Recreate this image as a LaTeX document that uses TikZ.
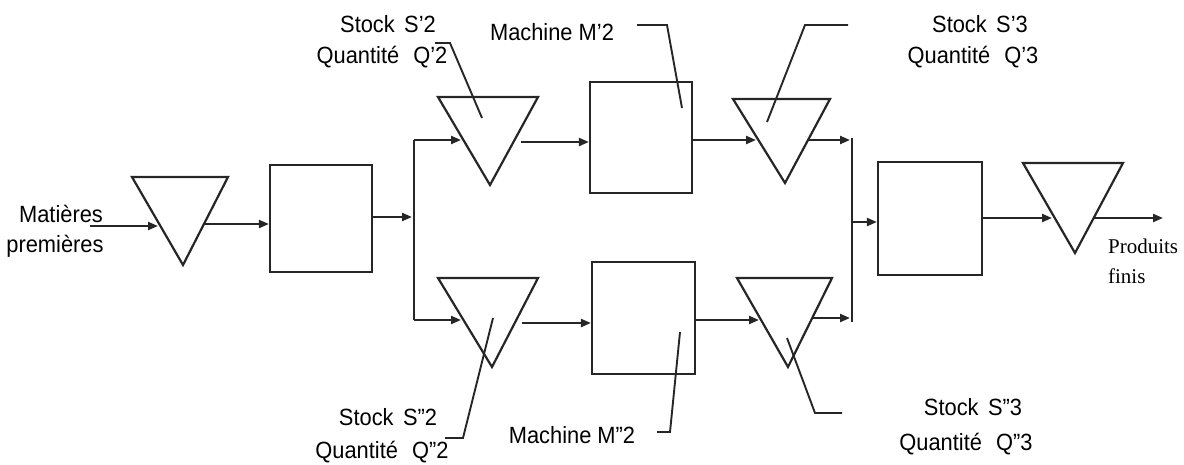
\documentclass[tikz,border=0pt]{standalone}
\usepackage{fontspec}
\setmainfont[FakeStretch=0.93]{Liberation Sans}
\newfontfamily\serifx{Liberation Serif}
\usetikzlibrary{arrows.meta}
\tikzset{
  box/.style={draw, rectangle, inner sep=0pt},
  flow/.style={-{Triangle[length=10pt,width=8pt]}},
  lead/.style={line width=1.9pt},
  lbl/.style={anchor=base, inner sep=0pt, font=\fontsize{23.5}{28}\selectfont},
  lblr/.style={anchor=base west, inner sep=0pt, font=\serifx\fontsize{21}{25}\selectfont},
}
\begin{document}
\begin{tikzpicture}[x=1pt,y=-1pt,line width=2.2pt,line join=miter,draw={black!85}]
\useasboundingbox (0,0) rectangle (1184,464);

% ---- input stock
\coordinate (in0) at (90,226);
\draw (132,177) coordinate (t1a) -- (183,265) coordinate (t1b) -- (228,177) coordinate (t1c) -- cycle;
\coordinate (t1in) at (158,226);
\coordinate (t1out) at (205,224);
\draw[flow] (in0) -- (t1in);

% ---- machine 1
\node[box,minimum width=102pt,minimum height=107pt] (b1) at (321,218.5) {};
\draw[flow] (t1out) -- (b1.west |- t1out);
\coordinate (j1) at (412,217);
\draw[flow] (b1.east |- j1) -- (j1);
\coordinate (j1t) at (414,140);
\coordinate (j1b) at (414,320);
\draw (j1t) -- (j1b);

% ---- upper branch
\draw (438,97) coordinate (t2a) -- (490,185) coordinate (t2b) -- (538,97) coordinate (t2c) -- cycle;
\coordinate (t2in) at (461,140);
\draw[flow] (j1t) -- (t2in);
\coordinate (t2out) at (521,142);
\node[box,minimum width=102pt,minimum height=111pt] (m2a) at (641,137.5) {};
\draw[flow] (t2out) -- (m2a.west |- t2out);
\draw (733,99) coordinate (t3a) -- (785,183) coordinate (t3b) -- (830,99) coordinate (t3c) -- cycle;
\coordinate (t3in) at (756,140);
\draw[flow] (m2a.east |- t3in) -- (t3in);
\coordinate (t3out) at (809,140);
\coordinate (j2t) at (850,140);
\draw[flow] (t3out) -- (j2t);

% ---- lower branch
\draw (438,278) coordinate (u2a) -- (492,367) coordinate (u2b) -- (538,278) coordinate (u2c) -- cycle;
\coordinate (u2in) at (461,320);
\draw[flow] (j1b) -- (u2in);
\coordinate (u2out) at (522,323);
\node[box,minimum width=103pt,minimum height=112pt] (m2b) at (643.5,318) {};
\draw[flow] (u2out) -- (m2b.west |- u2out);
\draw (737,278) coordinate (u3a) -- (788,367) coordinate (u3b) -- (832,278) coordinate (u3c) -- cycle;
\coordinate (u3in) at (759,320);
\draw[flow] (m2b.east |- u3in) -- (u3in);
\coordinate (u3out) at (813,318);
\coordinate (j2b) at (850,318);
\draw[flow] (u3out) -- (j2b);

% ---- merge
\coordinate (v2t) at (852,138);
\coordinate (v2b) at (852,322);
\draw (v2t) -- (v2b);
\node[box,minimum width=104pt,minimum height=113pt] (b3) at (930,218.5) {};
\coordinate (j2m) at (852,222);
\draw[flow] (j2m) -- (b3.west |- j2m);

% ---- output stock
\draw (1023,163) coordinate (t4a) -- (1075,253) coordinate (t4b) -- (1123,163) coordinate (t4c) -- cycle;
\coordinate (t4in) at (1052,218);
\draw[flow] (b3.east |- t4in) -- (t4in);
\coordinate (t4out) at (1094,218);
\coordinate (out) at (1163,218);
\draw[flow] (t4out) -- (out);

% ---- leader lines
\draw[lead] (435,43) -- (450,43) -- (482,118);
\draw[lead] (637,25) -- (667,25) -- (682,108);
\draw[lead] (767,122) -- (805,25) -- (848,25);
\draw[lead] (493,318) -- (463,438) -- (445,438);
\draw[lead] (680,332) -- (670,432) -- (657,432);
\draw[lead] (787,338) -- (815,413) -- (842,413);

% ---- labels
\node[lbl] (ls2a) at (388,32) {Stock\hspace{0.4em}S’2};
\node[lbl] (ls2b) at (382,63) {Quantité\hspace{0.6em}Q’2};
\node[lbl] (lm2a) at (552,40) {Machine M’2};
\node[lbl] (ls3a) at (980,32) {Stock\hspace{0.4em}S’3};
\node[lbl] (ls3b) at (973,63) {Quantité\hspace{0.6em}Q’3};
\node[lbl] (lmp1) at (61,222) {Matières};
\node[lbl] (lmp2) at (55,252) {premières};
\node[lbl] (lu2a) at (388,425) {Stock\hspace{0.4em}S”2};
\node[lbl] (lu2b) at (382,458) {Quantité\hspace{0.6em}Q”2};
\node[lbl] (lm2b) at (572,443) {Machine M”2};
\node[lbl] (lu3a) at (973,415) {Stock\hspace{0.4em}S”3};
\node[lbl] (lu3b) at (966,450) {Quantité\hspace{0.6em}Q”3};
\node[lblr] (lpf1) at (1107,253) {Produits};
\node[lblr] (lpf2) at (1107,283) {finis};
\end{tikzpicture}
\end{document}
